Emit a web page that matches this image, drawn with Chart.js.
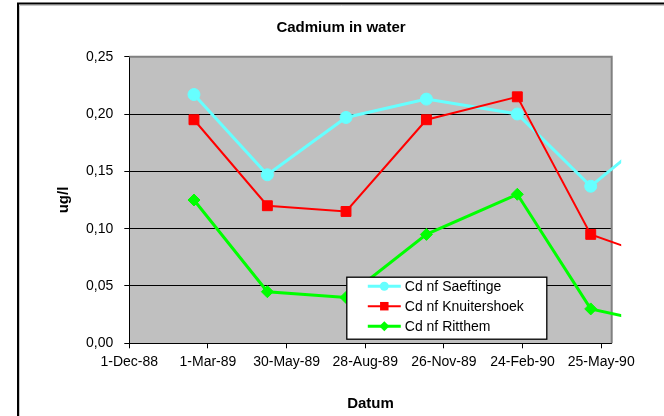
<!DOCTYPE html>
<html><head><meta charset="utf-8">
<script src="https://cdn.jsdelivr.net/npm/chart.js@4.4.1/dist/chart.umd.min.js"></script>
<style>html,body{margin:0;padding:0;background:#fff}#wrap{width:664px;height:416px;position:relative}</style>
</head><body><div id="wrap"><canvas id="c" width="664" height="416"></canvas></div>
<script>
// ---- data ----
const startDate = '1988-12-01';
const axisEndDate = '1990-06-06';
const sampleDates = ['1989-02-13','1989-05-08','1989-08-06','1989-11-06','1990-02-18','1990-05-13','1990-08-06'];
const saeftinge    = [0.217, 0.147, 0.197, 0.213, 0.200, 0.137, 0.190];
const knuitershoek = [0.195, 0.120, 0.115, 0.195, 0.215, 0.095, 0.072];
const ritthem      = [0.125, 0.045, 0.040, 0.095, 0.130, 0.030, 0.016];
const seriesNames  = ['Cd nf Saeftinge', 'Cd nf Knuitershoek', 'Cd nf Ritthem'];
const xTickDates   = ['1988-12-01','1989-03-01','1989-05-30','1989-08-28','1989-11-26','1990-02-24','1990-05-25'];
const xTickLabels  = ['1-Dec-88','1-Mar-89','30-May-89','28-Aug-89','26-Nov-89','24-Feb-90','25-May-90'];
const yTickValues  = [0, 0.05, 0.10, 0.15, 0.20, 0.25];

const DAY = 86400000;
const dayNum = s => (Date.parse(s) - Date.parse(startDate)) / DAY;
const toPoints = vals => vals.map((v, i) => ({x: dayNum(sampleDates[i]), y: v}));
const xTickDays = xTickDates.map(dayNum);

const FONT = '"Liberation Sans", Arial, sans-serif';

const frame = {
  id: 'frame',
  beforeDraw(chart) {
    const {ctx, chartArea: a} = chart;
    ctx.save();
    ctx.fillStyle = '#fff';
    ctx.fillRect(0, 0, chart.width, chart.height);
    // outer chart border
    ctx.strokeStyle = '#000'; ctx.lineWidth = 2;
    ctx.beginPath(); ctx.moveTo(18, 416); ctx.lineTo(18, 3.5); ctx.lineTo(664, 3.5); ctx.stroke();
    ctx.strokeStyle = '#c8c8c8'; ctx.lineWidth = 1;
    ctx.beginPath(); ctx.moveTo(19.5, 416); ctx.lineTo(19.5, 5.5); ctx.lineTo(664, 5.5); ctx.stroke();
    // plot area
    ctx.fillStyle = '#c0c0c0';
    ctx.fillRect(a.left, a.top, a.right - a.left, a.bottom - a.top);
    ctx.restore();
  },
  beforeDatasetsDraw(chart) {
    const {ctx, chartArea: a} = chart;
    ctx.save();
    ctx.strokeStyle = '#808080'; ctx.lineWidth = 2;
    ctx.beginPath(); ctx.moveTo(a.left, a.top); ctx.lineTo(a.right, a.top); ctx.lineTo(a.right, a.bottom); ctx.stroke();
    ctx.restore();
  }
};

function marker(ctx, style, r, x, y, color) {
  ctx.fillStyle = color;
  ctx.beginPath();
  if (style === 'circle') { ctx.arc(x, y, r, 0, Math.PI * 2); }
  else if (style === 'rect') { const s = r * Math.SQRT1_2; ctx.rect(x - s, y - s, 2 * s, 2 * s); }
  else { ctx.moveTo(x - r, y); ctx.lineTo(x, y - r); ctx.lineTo(x + r, y); ctx.lineTo(x, y + r); ctx.closePath(); }
  ctx.fill();
}

const boxLegend = {
  id: 'boxLegend',
  afterDraw(chart) {
    const {ctx, chartArea: a} = chart;
    const L = a.left + 217.5, T = a.top + 220.5, W = 200, H = 62;
    ctx.save();
    ctx.fillStyle = '#fff'; ctx.fillRect(L, T, W, H);
    ctx.strokeStyle = '#000'; ctx.lineWidth = 1.3; ctx.strokeRect(L, T, W, H);
    const legendR = [4.5, 6, 5];
    chart.data.datasets.forEach((ds, i) => {
      const y = T + 9 + i * 20;
      ctx.strokeStyle = ds.borderColor; ctx.lineWidth = ds.borderWidth;
      ctx.beginPath(); ctx.moveTo(L + 21, y); ctx.lineTo(L + 54, y); ctx.stroke();
      marker(ctx, ds.pointStyle, legendR[i], L + 37.5, y, ds.borderColor);
      ctx.fillStyle = '#000'; ctx.font = '14px ' + FONT;
      ctx.textBaseline = 'middle'; ctx.textAlign = 'left';
      ctx.fillText(ds.label, L + 58, y + 0.5);
    });
    ctx.restore();
  }
};

const clipOpt = {left: 0, top: 8, right: 9.5, bottom: 8};

new Chart(document.getElementById('c'), {
  type: 'line',
  data: {
    datasets: [
      {label: seriesNames[0], data: toPoints(saeftinge), borderColor: '#66ffff', backgroundColor: '#66ffff',
       borderWidth: 3, pointStyle: 'circle', pointRadius: 6, pointBorderWidth: 1, order: 3, clip: clipOpt},
      {label: seriesNames[1], data: toPoints(knuitershoek), borderColor: '#ff0000', backgroundColor: '#ff0000',
       borderWidth: 2, pointStyle: 'rect', pointRadius: 7, pointBorderWidth: 1, order: 2, clip: clipOpt},
      {label: seriesNames[2], data: toPoints(ritthem), borderColor: '#00ff00', backgroundColor: '#00ff00',
       borderWidth: 3, pointStyle: 'rectRot', pointRadius: 6, pointBorderWidth: 1, order: 1, clip: clipOpt}
    ]
  },
  options: {
    responsive: false, animation: false, events: [],
    layout: {padding: {left: 18, right: 0, top: 0, bottom: 0}},
    plugins: {
      legend: {display: false}, tooltip: {enabled: false},
      title: {display: true, text: 'Cadmium in water', color: '#000',
              font: {family: FONT, size: 15, weight: 'bold', lineHeight: 1.2},
              padding: {top: 19, bottom: 19.7}}
    },
    scales: {
      x: {
        type: 'linear', min: 0, max: dayNum(axisEndDate),
        afterBuildTicks: s => { s.ticks = xTickDays.map(v => ({value: v})); },
        afterFit: s => { s.height = 72.7; },
        grid: {drawOnChartArea: false, drawTicks: true, tickLength: 5, tickColor: '#000', color: '#000'},
        border: {display: true, color: '#000', width: 1},
        ticks: {autoSkip: false, maxRotation: 0, padding: 5, color: '#000',
                font: {family: FONT, size: 14},
                callback: v => xTickLabels[xTickDays.indexOf(v)] ?? ''},
        title: {display: true, text: 'Datum', color: '#000',
                font: {family: FONT, size: 15, weight: 'bold', lineHeight: 1.2}, padding: {top: 0, bottom: 3}}
      },
      y: {
        min: 0, max: 0.25,
        afterBuildTicks: s => { s.ticks = yTickValues.map(v => ({value: v})); },
        afterFit: s => { s.width = 111.3; },
        grid: {color: c => (c.tick && c.tick.value >= 0.249) ? 'rgba(0,0,0,0)' : '#000',
               tickColor: '#000', tickLength: 5, lineWidth: 1},
        border: {display: true, color: '#000', width: 1},
        ticks: {padding: 11, color: '#000', font: {family: FONT, size: 14},
                callback: v => v.toFixed(2).replace('.', ',')},
        title: {display: true, text: 'ug/l', color: '#000',
                font: {family: FONT, size: 15, weight: 'bold', lineHeight: 1.2}, padding: {top: 37, bottom: 0}}
      },
      yRight: {
        position: 'right', min: 0, max: 0.25,
        afterFit: s => { s.width = 52.3; },
        grid: {display: false}, border: {display: false}, ticks: {display: false}
      }
    }
  },
  plugins: [frame, boxLegend]
});
</script>
</body></html>
